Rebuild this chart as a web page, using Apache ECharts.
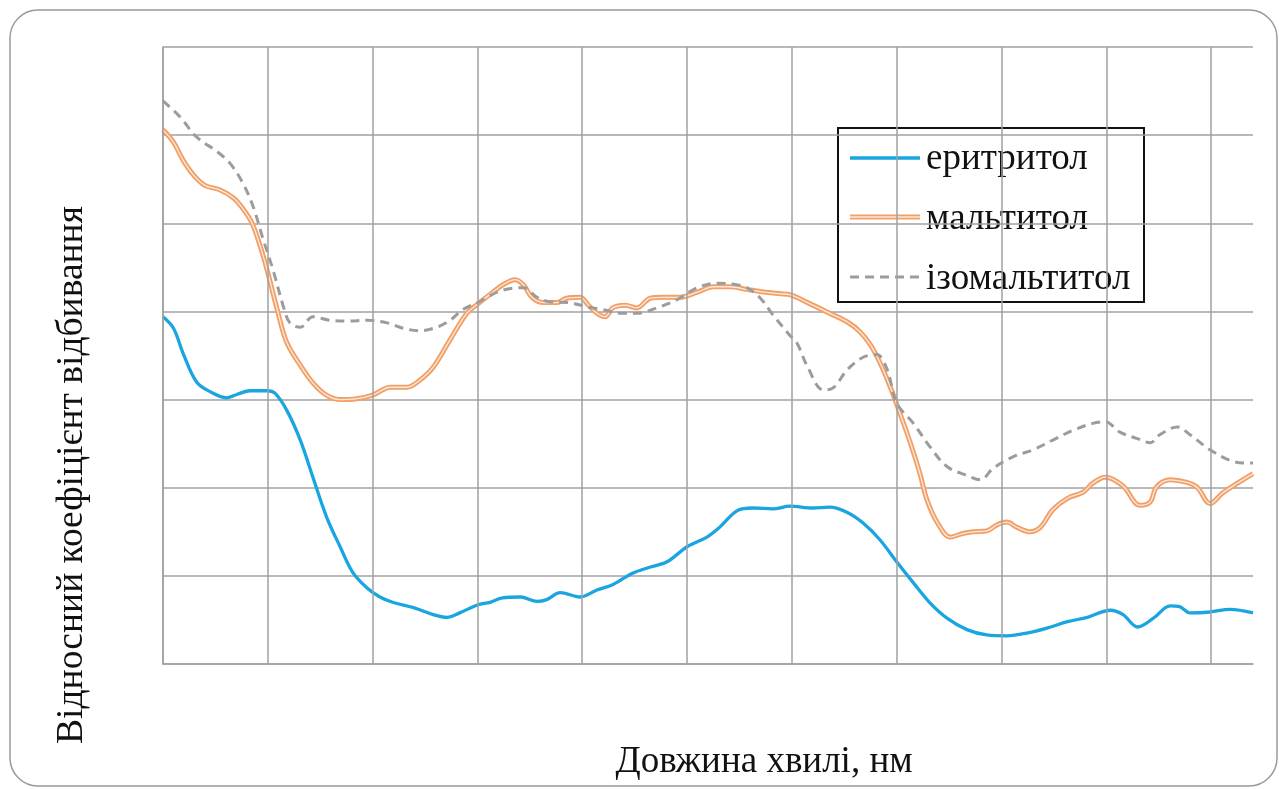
<!DOCTYPE html>
<html>
<head>
<meta charset="utf-8">
<script src="https://cdn.jsdelivr.net/npm/echarts@6/dist/echarts.min.js"></script>
<style>
  html, body { margin: 0; padding: 0; background: #fff; }
  #chart { width: 1282px; height: 789px; }
</style>
</head>
<body>
<div id="chart"></div>
<script>
// Relative reflectance spectra of three sugar alcohols (arbitrary units).
const seriesNames = ['еритритол', 'мальтитол', 'ізомальтитол'];

const erythritol = [
  [0, 394], [10, 381], [19, 353], [32, 320], [45, 309], [61, 302], [71, 306], [83, 310],
  [99, 310], [107, 307], [118, 288], [131, 254], [143, 212], [156, 167], [169, 133],
  [181, 104], [195, 86], [207, 76], [219, 70], [239, 64], [258, 56], [271, 53], [283, 58],
  [300, 67], [312, 70], [324, 75], [341, 76], [357, 71], [366, 73], [379, 81], [398, 76],
  [414, 84], [429, 90], [448, 103], [465, 110], [481, 116], [500, 133], [519, 144],
  [531, 155], [548, 174], [563, 177], [582, 176], [598, 179], [620, 177], [636, 178],
  [653, 172], [668, 160], [684, 141], [700, 116], [716, 92], [732, 69], [748, 52],
  [767, 39], [786, 33], [805, 32], [824, 35], [844, 41], [863, 48], [882, 53], [904, 61],
  [916, 56], [930, 42], [945, 52], [961, 66], [970, 65], [980, 58], [999, 59], [1018, 62],
  [1040, 58]
];

const maltitol = [
  [0, 606], [10, 592], [19, 572], [29, 555], [40, 543], [54, 538], [67, 529], [76, 517],
  [85, 500], [93, 473], [100, 444], [109, 402], [118, 365], [131, 339], [143, 319],
  [156, 305], [169, 300], [185, 301], [200, 305], [217, 314], [233, 314], [245, 322],
  [258, 337], [274, 368], [290, 398], [302, 410], [315, 422], [324, 430], [336, 436],
  [344, 430], [352, 416], [363, 410], [376, 410], [385, 415], [398, 416], [406, 407],
  [414, 398], [422, 394], [429, 404], [441, 407], [452, 404], [465, 415], [477, 416],
  [493, 416], [510, 422], [525, 428], [541, 428], [557, 425], [573, 422], [589, 420],
  [598, 419], [615, 410], [636, 398], [653, 388], [665, 377], [675, 362], [684, 342],
  [694, 314], [703, 285], [713, 251], [722, 217], [729, 186], [739, 160], [751, 144],
  [763, 148], [773, 150], [786, 151], [796, 158], [805, 161], [815, 155], [827, 150],
  [837, 155], [849, 175], [863, 188], [878, 195], [887, 205], [899, 212], [916, 202],
  [932, 180], [942, 184], [948, 201], [961, 209], [977, 206], [987, 200], [999, 182],
  [1011, 194], [1025, 205], [1040, 216]
];

const isomalt = [
  [0, 639], [16, 621], [32, 598], [52, 581], [64, 568], [76, 546], [86, 519], [95, 484],
  [105, 447], [115, 405], [121, 387], [131, 382], [143, 394], [159, 390], [176, 389],
  [195, 390], [214, 387], [229, 381], [245, 378], [261, 382], [274, 390], [286, 402],
  [302, 411], [309, 416], [324, 424], [344, 427], [357, 416], [369, 411], [388, 410],
  [405, 405], [420, 402], [436, 398], [452, 398], [471, 404], [490, 413], [510, 427],
  [529, 432], [544, 431], [557, 427], [570, 415], [582, 396], [598, 373], [605, 364],
  [615, 337], [630, 311], [639, 313], [653, 334], [668, 348], [681, 351], [691, 334],
  [700, 296], [716, 273], [732, 246], [748, 224], [767, 214], [780, 209], [792, 222],
  [811, 235], [830, 243], [849, 254], [868, 265], [887, 273], [899, 275], [913, 263],
  [929, 256], [942, 251], [951, 260], [968, 269], [980, 260], [999, 243], [1018, 231],
  [1031, 228], [1040, 228]
];

// Vertical grid positions (x-axis values); the plot ends short of the next one.
const xGridValues = [0, 100, 200, 300, 400, 500, 600, 700, 800, 900, 1000];

const xAxisTitle = 'Довжина хвилі, нм';
const yAxisTitle = 'Відносний коефіцієнт відбивання';

const BLUE = '#1aa5e0';
const ORANGE = '#f0a068';
const ORANGE_CORE = '#fde9dc';
const GREY = '#9c9c9c';
const GRID = '#a0a0a0';
const FONT = '"Liberation Serif", "DejaVu Serif", serif';

const chart = echarts.init(document.getElementById('chart'), null, { renderer: 'canvas' });

chart.setOption({
  backgroundColor: '#ffffff',
  animation: false,
  grid: { left: 163, top: 47, right: 29, bottom: 125, containLabel: false },
  xAxis: {
    type: 'value', min: 0, max: 1040, interval: 100,
    axisLine: { show: true, lineStyle: { color: GRID, width: 1.5 } },
    axisTick: { show: false }, axisLabel: { show: false },
    splitLine: { show: false }
  },
  yAxis: {
    type: 'value', min: 0, max: 700, interval: 100,
    axisLine: { show: true, lineStyle: { color: GRID, width: 1.5 } },
    axisTick: { show: false }, axisLabel: { show: false },
    splitLine: { show: true, lineStyle: { color: GRID, width: 1.5 } }
  },
  series: [
    {
      // vertical grid lines
      type: 'line', data: [], silent: true,
      markLine: {
        silent: true, symbol: 'none', animation: false,
        label: { show: false },
        lineStyle: { color: GRID, width: 1.5, type: 'solid' },
        data: xGridValues.map(v => ({ xAxis: v }))
      }
    },
    {
      name: seriesNames[0], type: 'line', data: erythritol, smooth: 0.35,
      showSymbol: false, silent: true,
      lineStyle: { color: BLUE, width: 3.3 }
    },
    {
      name: seriesNames[1], type: 'line', data: maltitol, smooth: 0.35,
      showSymbol: false, silent: true,
      lineStyle: { color: ORANGE, width: 5 }
    },
    {
      // light core of the double line
      name: seriesNames[1] + '-core', type: 'line', data: maltitol, smooth: 0.35,
      showSymbol: false, silent: true,
      lineStyle: { color: ORANGE_CORE, width: 1.3 }
    },
    {
      name: seriesNames[2], type: 'line', data: isomalt, smooth: 0.35,
      showSymbol: false, silent: true,
      lineStyle: { color: GREY, width: 3, type: [9, 6] }
    }
  ],
  graphic: [
    {
      // rounded outer frame
      type: 'rect', z: -10, silent: true,
      shape: { x: 10, y: 10, width: 1267, height: 776, r: 28 },
      style: { fill: '#ffffff', stroke: '#9a9a9a', lineWidth: 1.5 }
    },
    {
      type: 'text', silent: true, x: 764, y: 762,
      style: {
        text: xAxisTitle, font: '37px ' + FONT, fill: '#111',
        textAlign: 'center', textVerticalAlign: 'middle'
      }
    },
    {
      type: 'text', silent: true, x: 72, y: 475, rotation: Math.PI / 2,
      style: {
        text: yAxisTitle, font: '37.5px ' + FONT, fill: '#111',
        textAlign: 'center', textVerticalAlign: 'middle'
      }
    },
    {
      // legend
      type: 'group', z: 100, silent: true,
      children: [
        {
          type: 'rect', shape: { x: 838, y: 128, width: 306, height: 174 },
          style: { fill: '#ffffff', stroke: '#111', lineWidth: 2 }
        },
        {
          type: 'line', shape: { x1: 850, y1: 158, x2: 920, y2: 158 },
          style: { stroke: BLUE, lineWidth: 3.3 }
        },
        {
          type: 'line', shape: { x1: 850, y1: 217, x2: 920, y2: 217 },
          style: { stroke: ORANGE, lineWidth: 5 }
        },
        {
          type: 'line', shape: { x1: 850, y1: 217, x2: 920, y2: 217 },
          style: { stroke: ORANGE_CORE, lineWidth: 1.3 }
        },
        {
          type: 'line', shape: { x1: 850, y1: 277, x2: 920, y2: 277 },
          style: { stroke: GREY, lineWidth: 3, lineDash: [9, 6] }
        },
        {
          type: 'text', x: 926, y: 159,
          style: { text: seriesNames[0], font: '37px ' + FONT, fill: '#111', textVerticalAlign: 'middle' }
        },
        {
          type: 'text', x: 926, y: 219,
          style: { text: seriesNames[1], font: '37px ' + FONT, fill: '#111', textVerticalAlign: 'middle' }
        },
        {
          type: 'text', x: 926, y: 279,
          style: { text: seriesNames[2], font: '37px ' + FONT, fill: '#111', textVerticalAlign: 'middle' }
        }
      ]
    }
  ]
});
</script>
</body>
</html>
